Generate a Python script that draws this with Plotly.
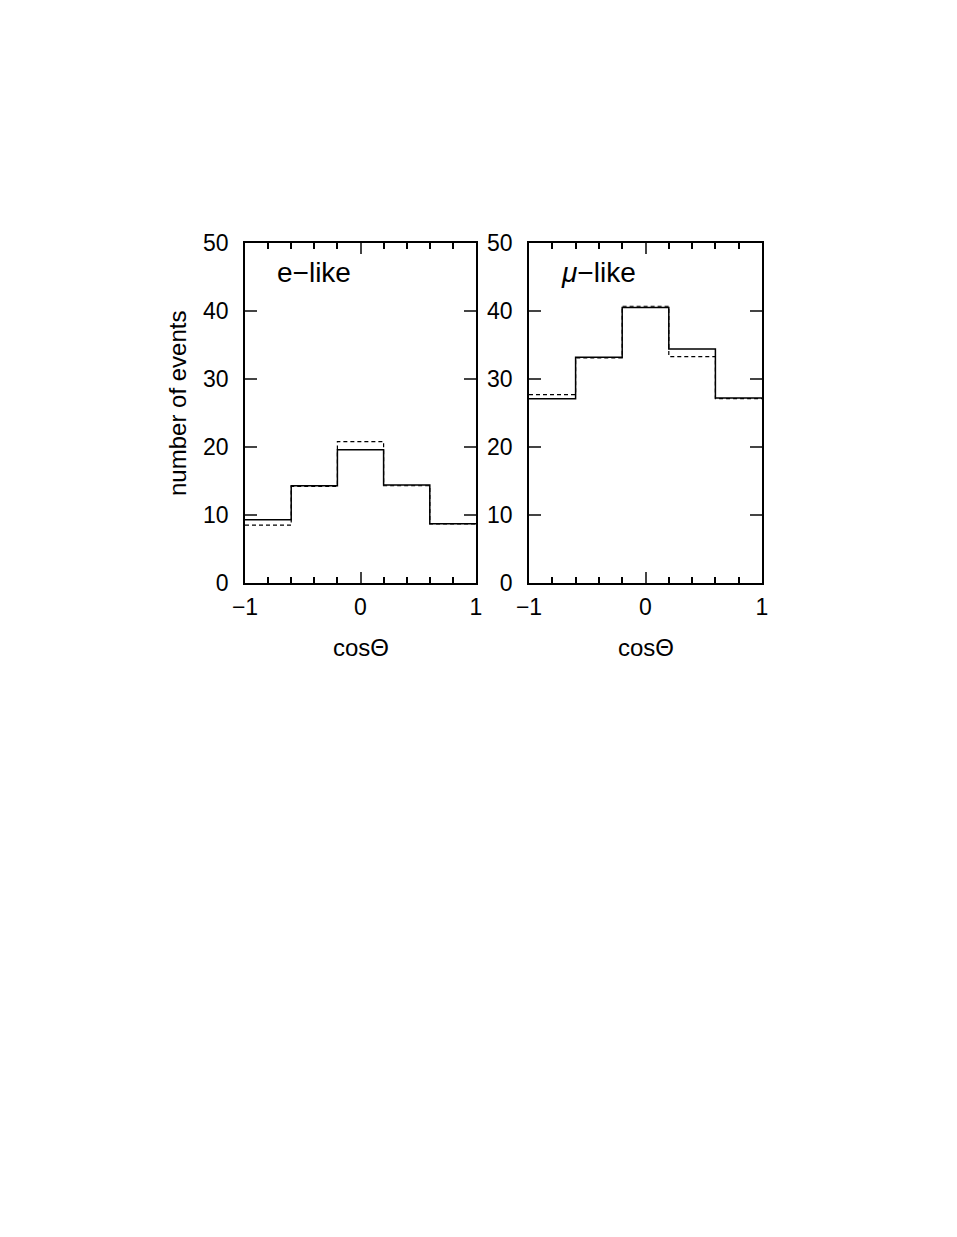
import plotly.graph_objects as go

bin_edges = [-1.0, -0.6, -0.2, 0.2, 0.6, 1.0]
e_solid = [9.3, 14.3, 19.6, 14.4, 8.7]
e_dashed = [8.5, 14.2, 20.8, 14.3, 8.7]
mu_solid = [27.1, 33.2, 40.5, 34.4, 27.2]
mu_dashed = [27.7, 33.1, 40.7, 33.3, 27.1]
panel_labels = ["e\u2212like", "<i>\u03bc</i>\u2212like"]
x_title = "cos\u0398"
y_title = "number of events"

FONT = "Liberation Sans, Arial, sans-serif"
W, H = 957, 1237

fig = go.Figure()

def step(vals):
    return vals + [vals[-1]]

panels = [(e_solid, e_dashed, "x", "y"), (mu_solid, mu_dashed, "x2", "y2")]
for solid, dashed, xa, ya in panels:
    fig.add_trace(go.Scatter(x=bin_edges, y=step(dashed), mode="lines", line_shape="hv",
                             line=dict(color="black", width=1.2, dash="4px,3px"),
                             xaxis=xa, yaxis=ya, showlegend=False))
    fig.add_trace(go.Scatter(x=bin_edges, y=step(solid), mode="lines", line_shape="hv",
                             line=dict(color="black", width=1.5),
                             xaxis=xa, yaxis=ya, showlegend=False))

xdoms = [[245 / W, 476 / W], [529 / W, 762 / W]]
ydom = [1 - 583 / H, 1 - 243 / H]

common_x = dict(range=[-1, 1], tickvals=[-1, 0, 1], ticks="inside", ticklen=11, tickwidth=1.5,
                showline=True, linecolor="black", linewidth=1.5, mirror="ticks", showgrid=False,
                zeroline=False, tickfont=dict(family=FONT, size=23, color="black"),
                minor=dict(dtick=0.2, tick0=0, ticks="inside", ticklen=6, tickwidth=1.5, tickcolor="black", showgrid=False),
                ticklabelstandoff=3)
common_y = dict(range=[0, 50], tickvals=[0, 10, 20, 30, 40, 50], ticks="inside", ticklen=12, tickwidth=1.5,
                showline=True, linecolor="black", linewidth=1.5, mirror="ticks", showgrid=False,
                zeroline=False, tickfont=dict(family=FONT, size=23, color="black"),
                ticklabelstandoff=10)

fig.update_layout(
    width=W, height=H, margin=dict(l=0, r=0, t=0, b=0, pad=0, autoexpand=False),
    paper_bgcolor="white", plot_bgcolor="white",
    xaxis=dict(domain=xdoms[0], anchor="y", **common_x),
    yaxis=dict(domain=ydom, anchor="x", **common_y),
    xaxis2=dict(domain=xdoms[1], anchor="y2", **common_x),
    yaxis2=dict(domain=ydom, anchor="x2", **common_y),
)

annos = []
for i, (xr, yr) in enumerate([("x", "y"), ("x2", "y2")]):
    annos.append(dict(x=-0.74, y=45.6, xref=xr, yref=yr, text=panel_labels[i], showarrow=False,
                      xanchor="left", yanchor="middle", font=dict(family=FONT, size=28, color="black")))
    xd = xdoms[i]
    annos.append(dict(x=(xd[0] + xd[1]) / 2, y=1 - 647 / H, xref="paper", yref="paper", text=x_title,
                      showarrow=False, xanchor="center", yanchor="middle",
                      font=dict(family=FONT, size=24, color="black")))
annos.append(dict(x=177 / W, y=1 - 404 / H, xref="paper", yref="paper", text=y_title, textangle=-90,
                  showarrow=False, xanchor="center", yanchor="middle",
                  font=dict(family=FONT, size=24, color="black")))
fig.update_layout(annotations=annos)

fig.write_html("out.html", config={"displayModeBar": False},
               post_script="document.body.style.margin='0';document.body.style.overflow='hidden';")
